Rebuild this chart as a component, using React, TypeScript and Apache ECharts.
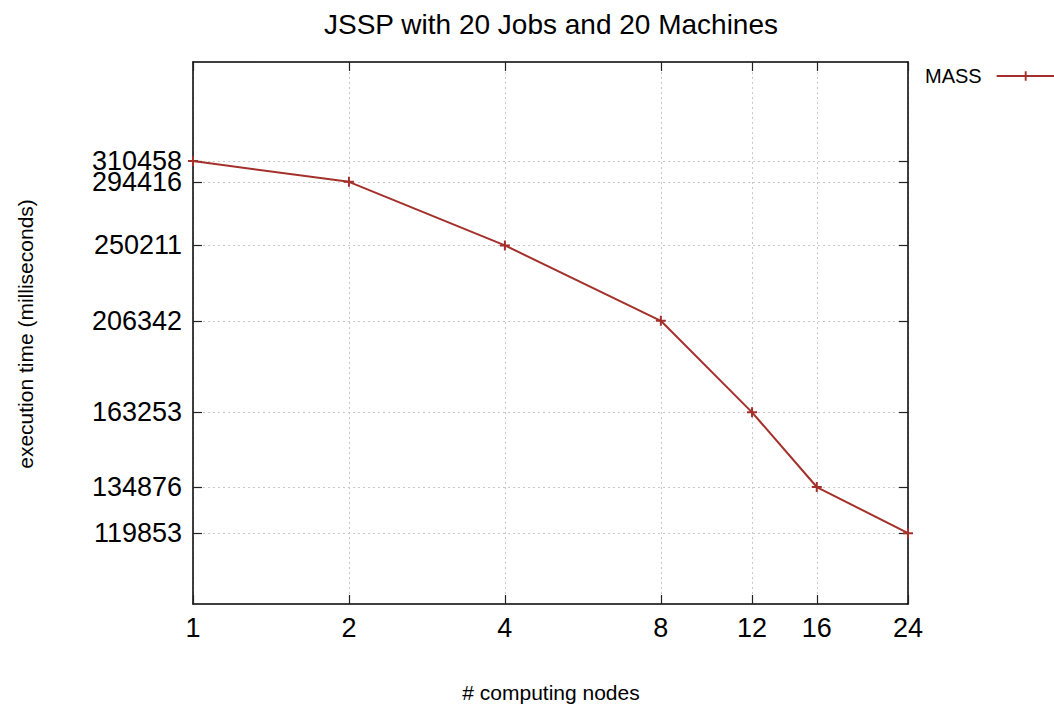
import React, { useEffect, useRef } from "react";
import * as echarts from "echarts";

const nodes = [1, 2, 4, 8, 12, 16, 24];
const timesMs = [310458, 294416, 250211, 206342, 163253, 134876, 119853];
const xTickLabels = [1, 2, 4, 8, 12, 16, 24];
const yTickLabels = [310458, 294416, 250211, 206342, 163253, 134876, 119853];
// label drawn on its own axis layer because it sits right under 310458
const yCrowdedLabels = [294416];
const seriesName = "MASS";
const yMinRaw = 100000;
const yMaxRaw = 400000;
const xMinRaw = 1;
const xMaxRaw = 24;

const FONT = "'Liberation Sans', Arial, Helvetica, sans-serif";
const RED = "#a3302b";

const lx = (v: number) => Math.log2(v);
const ly = (v: number) => Math.log10(v);

const findRaw = (list: number[], f: (n: number) => number, v: number) => {
  for (const t of list) if (Math.abs(f(t) - v) < 1e-7) return String(t);
  return "";
};

export default function App() {
  const ref = useRef<HTMLDivElement>(null);
  useEffect(() => {
    if (!ref.current) return;
    const chart = echarts.init(ref.current, null, { renderer: "svg" });
    const xTicks = xTickLabels.map(lx);
    const yTicks = yTickLabels.map(ly);
    const yMainLabels = yTickLabels.filter((t) => !yCrowdedLabels.includes(t)).map(ly);
    const yExtraLabels = yCrowdedLabels.map(ly);
    const plus = "path://M4,0H6V4H10V6H6V10H4V6H0V4H4Z";
    const common = {
      axisLine: { show: true, onZero: false, lineStyle: { color: "#000", width: 1.5 } },
    };
    const yLabelStyle = {
      hideOverlap: false,
      fontSize: 27,
      color: "#000",
      margin: 11,
      fontFamily: FONT,
      formatter: (v: number) => findRaw(yTickLabels, ly, v),
    };
    chart.setOption({
      animation: false,
      backgroundColor: "#fff",
      textStyle: { fontFamily: FONT },
      grid: { left: 193, top: 62, right: 146, bottom: 104, containLabel: false },
      graphic: [
        {
          type: "text",
          x: 551,
          y: 24,
          style: {
            text: "JSSP with 20 Jobs and 20 Machines",
            font: `28px ${FONT}`,
            fill: "#000",
            align: "center",
            verticalAlign: "middle",
          },
        },
        {
          type: "text",
          x: 551,
          y: 692,
          style: {
            text: "# computing nodes",
            font: `21px ${FONT}`,
            fill: "#000",
            align: "center",
            verticalAlign: "middle",
          },
        },
        {
          type: "text",
          x: 25,
          y: 334,
          rotation: Math.PI / 2,
          style: {
            text: "execution time (milliseconds)",
            font: `21px ${FONT}`,
            fill: "#000",
            align: "center",
            verticalAlign: "middle",
          },
        },
      ],
      legend: {
        left: 920,
        top: 61,
        align: "right",
        itemWidth: 58,
        itemHeight: 12,
        textStyle: { fontSize: 20, color: "#000", fontFamily: FONT, padding: [0, 10, 0, 0] },
        data: [seriesName],
      },
      xAxis: [
        {
          type: "value",
          position: "bottom",
          min: lx(xMinRaw),
          max: lx(xMaxRaw),
          ...common,
          axisTick: {
            show: true,
            inside: true,
            length: 9,
            customValues: xTicks,
            lineStyle: { color: "#222", width: 1.2 },
          },
          axisLabel: {
            customValues: xTicks,
            hideOverlap: false,
            fontSize: 27,
            color: "#000",
            margin: 10,
            fontFamily: FONT,
            formatter: (v: number) => findRaw(xTickLabels, lx, v),
          },
          splitLine: {
            show: true,
            lineStyle: { color: "#c8c8c8", width: 1, type: [2, 3] },
          },
        },
        {
          type: "value",
          position: "top",
          min: lx(xMinRaw),
          max: lx(xMaxRaw),
          ...common,
          axisTick: {
            show: true,
            inside: true,
            length: 9,
            customValues: xTicks,
            lineStyle: { color: "#222", width: 1.2 },
          },
          axisLabel: { show: false, customValues: xTicks },
          splitLine: { show: false },
        },
      ],
      yAxis: [
        {
          type: "value",
          position: "left",
          min: ly(yMinRaw),
          max: ly(yMaxRaw),
          ...common,
          axisTick: {
            show: true,
            inside: true,
            length: 9,
            customValues: yTicks,
            lineStyle: { color: "#222", width: 1.2 },
          },
          axisLabel: { ...yLabelStyle, customValues: yMainLabels },
          splitLine: {
            show: true,
            lineStyle: { color: "#c8c8c8", width: 1, type: [2, 3] },
          },
        },
        {
          type: "value",
          position: "right",
          min: ly(yMinRaw),
          max: ly(yMaxRaw),
          ...common,
          axisTick: {
            show: true,
            inside: true,
            length: 9,
            customValues: yTicks,
            lineStyle: { color: "#222", width: 1.2 },
          },
          axisLabel: { show: false, customValues: yTicks },
          splitLine: { show: false },
        },
        {
          type: "value",
          position: "left",
          offset: 0,
          min: ly(yMinRaw),
          max: ly(yMaxRaw),
          axisLine: { show: false },
          axisTick: { show: false, customValues: yExtraLabels },
          axisLabel: { ...yLabelStyle, customValues: yExtraLabels },
          splitLine: { show: false },
        },
      ],
      series: [
        {
          name: seriesName,
          type: "line",
          xAxisIndex: 0,
          yAxisIndex: 0,
          data: nodes.map((n, i) => [lx(n), ly(timesMs[i])]),
          symbol: plus,
          symbolSize: 10,
          showSymbol: true,
          clip: false,
          lineStyle: { color: RED, width: 2 },
          itemStyle: { color: RED },
        },
      ],
    });
    return () => chart.dispose();
  }, []);
  return (
    <div
      ref={ref}
      style={{ position: "fixed", left: 0, top: 0, width: 1054, height: 708, background: "#fff" }}
    />
  );
}
